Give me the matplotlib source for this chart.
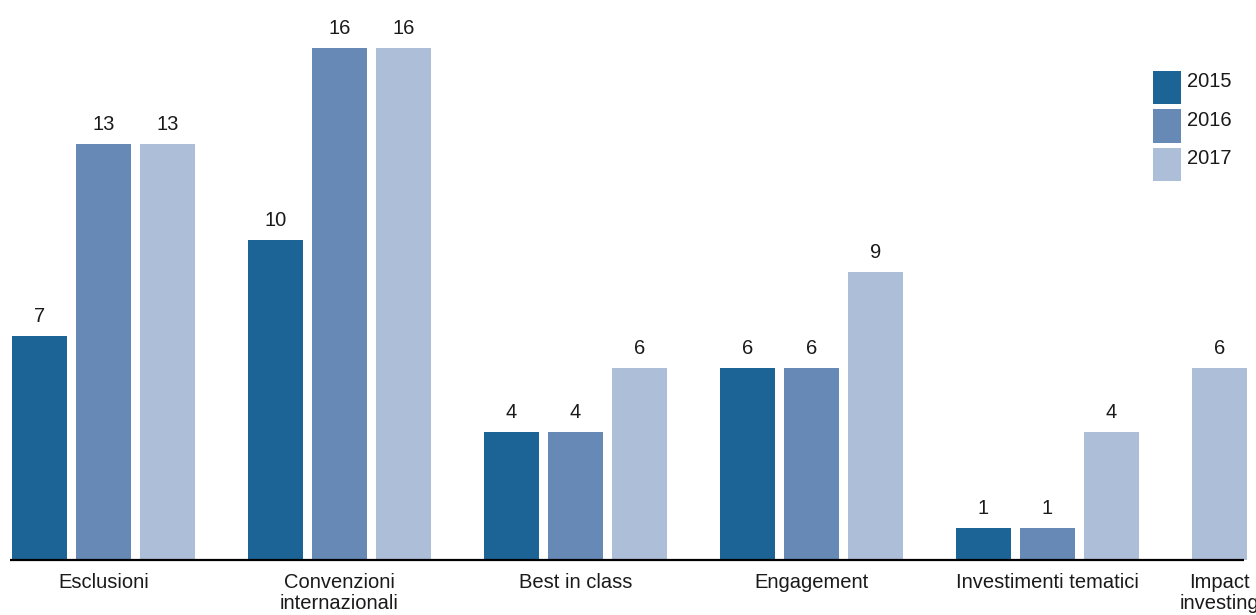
import numpy as np
import matplotlib.pyplot as plt
from matplotlib.patches import Rectangle

plt.rcParams['font.family'] = ['Liberation Sans', 'DejaVu Sans']

categories = ['Esclusioni', 'Convenzioni\ninternazionali', 'Best in class',
              'Engagement', 'Investimenti tematici', 'Impact\ninvesting']
years = ['2015', '2016', '2017']
v2015 = [7, 10, 4, 6, 1, None]
v2016 = [13, 16, 4, 6, 1, None]
v2017 = [13, 16, 6, 9, 4, 6]
colors = ['#1c6496', '#6689b5', '#adbed9']

W, H = 1256, 615
px_per_unit = 32.0          # vertical pixels per count
x0, group_step, slot, bar_w = 12, 236, 64, 55
fs = 14.5

fig = plt.figure(figsize=(W / 100, H / 100), dpi=100)
ax = fig.add_axes([0, 55 / H, 1, 560 / H])
ax.set_xlim(0, W)
ax.set_ylim(0, 560 / px_per_unit)
ax.axis('off')

series = [v2015, v2016, v2017]
for g, cat in enumerate(categories):
    start = x0 + g * group_step
    k = 0
    centers = []
    for s, vals in enumerate(series):
        v = vals[g]
        if v is None:
            continue
        left = start + k * slot
        ax.bar(left, v, width=bar_w, align='edge', color=colors[s], linewidth=0)
        cx = left + bar_w / 2
        ax.text(cx, v + 14 / px_per_unit, str(v), ha='center', va='baseline',
                fontsize=fs, color='#1a1a1a')
        centers.append(cx)
        k += 1
    ax.text(np.mean(centers), -13 / px_per_unit, cat, ha='center', va='top',
            fontsize=fs, color='#1a1a1a', linespacing=1.12, clip_on=False)

# baseline
ax.plot([10, 1244], [0, 0], color='black', linewidth=1.6, solid_capstyle='butt',
        clip_on=False)

# legend boxes
for i, (yr, c) in enumerate(zip(years, colors)):
    top = 71 + i * 38.5
    fig.add_artist(Rectangle((1153 / W, 1 - (top + 33) / H), 28 / W, 33 / H,
                             transform=fig.transFigure, color=c, linewidth=0))
    fig.text(1187 / W, 1 - (top + 1) / H, yr, ha='left', va='top',
             fontsize=fs, color='#1a1a1a')

fig.savefig('out.png', dpi=100)
